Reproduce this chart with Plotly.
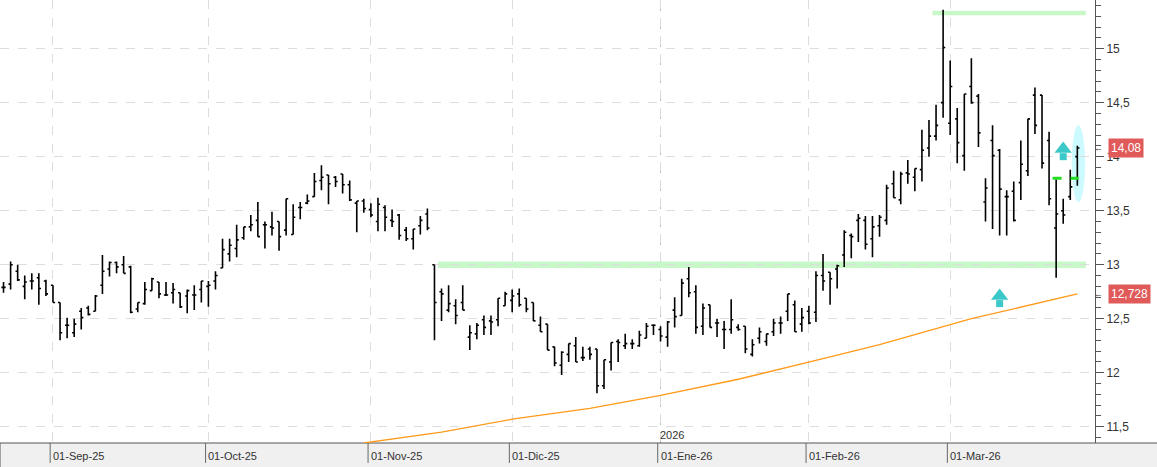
import pandas as pd
import plotly.graph_objects as go

# Sesiones (dias habiles, sin festivos de bolsa)
fechas = pd.bdate_range('2025-08-21', '2026-03-26')
fechas = fechas[~fechas.isin(pd.to_datetime(['2025-12-25', '2025-12-26', '2026-01-01']))]
fechas = [d.strftime('%Y-%m-%d') for d in fechas]

apertura = [12.79, 12.82, 12.94, 12.80, 12.85, 12.88, 12.85, 12.81, 12.65, 12.44,
            12.37, 12.57, 12.60, 12.57, 12.81, 12.96, 13.02, 13.00, 12.98, 12.59,
            12.64, 12.76, 12.84, 12.72, 12.74, 12.74, 12.71, 12.72, 12.77, 12.80,
            12.85, 12.97, 13.10, 13.15, 13.25, 13.35, 13.41, 13.37, 13.35, 13.40,
            13.32, 13.28, 13.53, 13.57, 13.63, 13.78, 13.83, 13.81, 13.84, 13.74,
            13.57, 13.59, 13.51, 13.40, 13.53, 13.41, 13.46, 13.32, 13.24, 13.36,
            13.47, 13.00, 12.75, 12.58, 12.62, 12.65, 12.33, 12.36, 12.49, 12.48,
            12.49, 12.62, 12.67, 12.73, 12.69, 12.65, 12.44, 12.45, 12.24, 12.07,
            12.17, 12.25, 12.14, 12.22, 12.22, 11.88, 12.10, 12.29, 12.25, 12.27,
            12.25, 12.32, 12.44, 12.40, 12.33, 12.58, 12.53, 12.87, 12.75, 12.43,
            12.63, 12.46, 12.40, 12.40, 12.42, 12.43, 12.17, 12.32, 12.29, 12.38,
            12.46, 12.57, 12.63, 12.45, 12.57, 12.56, 12.90, 12.93, 12.96, 13.09,
            13.27, 13.41, 13.41, 13.24, 13.36, 13.41, 13.75, 13.60, 13.85, 13.81,
            13.88, 14.08, 14.19, 14.50, 14.31, 14.35, 14.01, 14.65, 14.56, 13.58,
            14.15, 14.06, 13.63, 13.68, 13.76, 13.87, 14.57, 14.57, 14.15, 13.34,
            13.50, 13.63, 14.00]
maximo = [12.84, 13.03, 13.00, 12.90, 12.92, 12.92, 12.86, 12.81, 12.65, 12.51,
          12.50, 12.60, 12.62, 12.72, 13.09, 13.03, 13.03, 13.08, 12.99, 12.65,
          12.84, 12.88, 12.84, 12.84, 12.83, 12.74, 12.77, 12.81, 12.85, 12.85,
          12.94, 13.24, 13.24, 13.37, 13.35, 13.46, 13.58, 13.40, 13.49, 13.40,
          13.61, 13.56, 13.58, 13.65, 13.85, 13.92, 13.83, 13.82, 13.84, 13.78,
          13.59, 13.61, 13.57, 13.62, 13.55, 13.51, 13.47, 13.35, 13.33, 13.45,
          13.52, 13.00, 12.78, 12.81, 12.68, 12.81, 12.44, 12.46, 12.53, 12.53,
          12.69, 12.75, 12.77, 12.78, 12.69, 12.65, 12.52, 12.45, 12.24, 12.20,
          12.27, 12.33, 12.24, 12.24, 12.22, 12.12, 12.28, 12.31, 12.36, 12.31,
          12.39, 12.46, 12.45, 12.43, 12.48, 12.70, 12.87, 12.98, 12.81, 12.64,
          12.63, 12.50, 12.48, 12.68, 12.45, 12.43, 12.31, 12.42, 12.36, 12.50,
          12.52, 12.73, 12.67, 12.60, 12.62, 12.94, 13.10, 12.93, 13.00, 13.32,
          13.29, 13.47, 13.45, 13.45, 13.46, 13.74, 13.87, 13.86, 13.97, 13.89,
          14.25, 14.34, 14.48, 15.36, 14.89, 14.45, 14.58, 14.91, 14.58, 13.80,
          14.29, 14.07, 13.69, 13.77, 14.15, 14.35, 14.64, 14.57, 14.23, 13.79,
          13.61, 13.88, 14.10]
minimo = [12.74, 12.77, 12.85, 12.68, 12.77, 12.63, 12.71, 12.65, 12.30, 12.32,
          12.33, 12.40, 12.53, 12.57, 12.73, 12.89, 12.92, 12.92, 12.55, 12.56,
          12.63, 12.76, 12.69, 12.71, 12.64, 12.60, 12.55, 12.58, 12.65, 12.61,
          12.77, 12.97, 13.03, 13.07, 13.23, 13.31, 13.26, 13.15, 13.27, 13.13,
          13.27, 13.28, 13.42, 13.56, 13.63, 13.69, 13.56, 13.72, 13.66, 13.59,
          13.30, 13.48, 13.44, 13.31, 13.31, 13.35, 13.23, 13.22, 13.14, 13.28,
          13.32, 12.30, 12.48, 12.56, 12.45, 12.58, 12.21, 12.31, 12.35, 12.35,
          12.43, 12.62, 12.56, 12.61, 12.56, 12.48, 12.38, 12.21, 12.06, 11.98,
          12.10, 12.10, 12.11, 12.12, 11.81, 11.85, 12.02, 12.10, 12.22, 12.22,
          12.24, 12.32, 12.35, 12.29, 12.24, 12.42, 12.53, 12.70, 12.36, 12.35,
          12.42, 12.33, 12.22, 12.36, 12.39, 12.18, 12.15, 12.27, 12.25, 12.34,
          12.36, 12.48, 12.38, 12.38, 12.45, 12.47, 12.76, 12.63, 12.78, 12.98,
          13.06, 13.21, 13.14, 13.07, 13.26, 13.37, 13.62, 13.56, 13.75, 13.68,
          13.77, 14.00, 14.15, 14.36, 14.20, 13.94, 13.87, 14.49, 14.09, 13.40,
          13.33, 13.27, 13.27, 13.40, 13.60, 13.82, 14.21, 13.89, 13.55, 12.88,
          13.38, 13.60, 13.73]
cierre = [12.79, 13.00, 12.86, 12.84, 12.85, 12.78, 12.73, 12.65, 12.37, 12.44,
          12.45, 12.51, 12.54, 12.71, 12.94, 13.02, 12.98, 12.92, 12.56, 12.65,
          12.77, 12.87, 12.73, 12.72, 12.77, 12.61, 12.76, 12.72, 12.85, 12.81,
          12.90, 13.14, 13.18, 13.23, 13.35, 13.37, 13.26, 13.37, 13.34, 13.26,
          13.61, 13.44, 13.53, 13.59, 13.77, 13.81, 13.75, 13.77, 13.74, 13.60,
          13.59, 13.52, 13.46, 13.56, 13.44, 13.40, 13.27, 13.24, 13.33, 13.41,
          13.34, 12.65, 12.73, 12.64, 12.53, 12.58, 12.37, 12.44, 12.42, 12.47,
          12.69, 12.73, 12.71, 12.63, 12.59, 12.48, 12.38, 12.21, 12.09, 12.19,
          12.27, 12.10, 12.14, 12.17, 11.88, 12.12, 12.28, 12.28, 12.27, 12.27,
          12.35, 12.43, 12.44, 12.34, 12.47, 12.52, 12.83, 12.74, 12.42, 12.60,
          12.42, 12.46, 12.40, 12.49, 12.40, 12.22, 12.26, 12.38, 12.36, 12.46,
          12.46, 12.73, 12.38, 12.51, 12.46, 12.90, 12.85, 12.87, 12.99, 13.30,
          13.26, 13.43, 13.19, 13.35, 13.44, 13.71, 13.62, 13.84, 13.84, 13.89,
          14.06, 14.19, 14.29, 15.01, 14.65, 14.13, 14.58, 14.50, 14.22, 13.71,
          14.01, 13.70, 13.63, 13.41, 13.93, 14.35, 14.29, 13.94, 13.61, 13.47,
          13.46, 13.72, 14.08]

# Media movil
media_idx = [51, 62, 72, 83, 93, 104, 116, 124, 137, 152]
media_val = [11.35, 11.45, 11.57, 11.67, 11.79, 11.94, 12.13, 12.26, 12.50, 12.73]

meses = ['2025-09-01', '2025-10-01', '2025-11-03', '2025-12-01', '2026-01-02', '2026-02-02', '2026-03-02']
meses_txt = ['01-Sep-25', '01-Oct-25', '01-Nov-25', '01-Dic-25', '01-Ene-26', '01-Feb-26', '01-Mar-26']

soporte = 13.0
resistencia = 15.33
nivel_verde = 13.8
ultimo = 14.08
ultima_media = 12.728

fig = go.Figure()

fig.add_trace(go.Ohlc(x=fechas, open=apertura, high=maximo, low=minimo, close=cierre,
                      increasing_line_color='black', decreasing_line_color='black',
                      line_width=1.6, tickwidth=0.3, hoverinfo='skip'))

fig.add_trace(go.Scatter(x=[fechas[i] for i in media_idx], y=media_val, mode='lines',
                         line=dict(color='#ff9a1a', width=1.3), hoverinfo='skip'))

# Flechas de senal (punta + tallo)
flecha_x = [fechas[150], fechas[141]]
flecha_y = [14.07, 12.71]
fig.add_trace(go.Scatter(x=flecha_x, y=[v - 0.07 for v in flecha_y], mode='markers',
                         marker=dict(symbol='square', size=7, color='#3cc8c8', line_width=0),
                         hoverinfo='skip'))
fig.add_trace(go.Scatter(x=flecha_x, y=flecha_y, mode='markers',
                         marker=dict(symbol='triangle-up', size=15, color='#3cc8c8', line_width=0),
                         hoverinfo='skip'))

n = len(fechas)
fig.add_shape(type='rect', x0=61.5, x1=n + 0.2, y0=soporte - 0.03, y1=soporte + 0.03,
              fillcolor='#c8f7c8', line_width=0, layer='below')
fig.add_shape(type='rect', x0=131.5, x1=n + 0.2, y0=resistencia - 0.02, y1=resistencia + 0.02,
              fillcolor='#c8f7c8', line_width=0, layer='below')
fig.add_shape(type='line', x0=148.5, x1=152.2, y0=nivel_verde, y1=nivel_verde,
              line=dict(color='#22dd22', width=3, dash='dash'))
fig.add_shape(type='circle', x0=n - 1.8, x1=n + 0.1, y0=13.58, y1=14.29,
              fillcolor='#ccfaff', line_width=0, layer='below')
fig.add_shape(type='line', x0=93, x1=93, y0=0, y1=1, yref='paper',
              line=dict(color='#bbbbbb', width=1, dash='dash'), layer='below')
# franja gris inferior
fig.add_shape(type='rect', xref='paper', yref='paper', x0=0, x1=1.06, y0=-0.06, y1=0,
              fillcolor='#f0f0f0', line=dict(color='#555555', width=1), layer='below')

for f, t in zip(meses, meses_txt):
    fig.add_annotation(x=fechas.index(f), y=0, yref='paper', yanchor='top', xanchor='left',
                       text=t, showarrow=False, font=dict(size=11, color='#333'), xshift=-2, yshift=-5)
    fig.add_shape(type='line', x0=fechas.index(f) - 0.4, x1=fechas.index(f) - 0.4, yref='paper',
                  y0=-0.045, y1=0, line=dict(color='#666', width=1))
fig.add_annotation(x=93, y=0, yref='paper', yanchor='bottom', xanchor='left', text='2026',
                   showarrow=False, font=dict(size=11, color='#333'), xshift=-3)

for v, t in [(ultimo, '14,08'), (ultima_media, '12,728')]:
    fig.add_annotation(x=1, xref='paper', y=v, xanchor='left', text=t, showarrow=False,
                       bgcolor='#e05a5a', font=dict(color='white', size=12), xshift=13, borderpad=2)
    fig.add_annotation(x=1, xref='paper', y=v, xanchor='left', text='←', showarrow=False,
                       font=dict(color='#333', size=9), xshift=-3)

fig.update_xaxes(type='category', range=[-0.5, n + 1.5], rangeslider_visible=False,
                 tickvals=meses, ticktext=['' for _ in meses], showgrid=True,
                 gridcolor='#dddddd', griddash='dash', showline=False, zeroline=False)
fig.update_yaxes(side='right', range=[11.35, 15.45], tickvals=[11.5, 12, 12.5, 13, 13.5, 14, 14.5, 15],
                 ticktext=['11,5', '12', '12,5', '13', '13,5', '14', '14,5', '15'],
                 showgrid=True, gridcolor='#dddddd', griddash='dash', showline=True,
                 linecolor='#555', ticks='outside', ticklen=8, tickcolor='#555',
                 minor=dict(dtick=0.1, ticks='outside', ticklen=5, tickcolor='#555'),
                 tickfont=dict(size=12, color='#333'), zeroline=False)

fig.update_layout(width=1157, height=467, margin=dict(l=0, r=62, t=0, b=24),
                  plot_bgcolor='white', paper_bgcolor='white', showlegend=False,
                  font=dict(family='Liberation Sans'))

fig.write_html("out.html", config={'displayModeBar': False},
               post_script="document.body.style.margin='0';")
